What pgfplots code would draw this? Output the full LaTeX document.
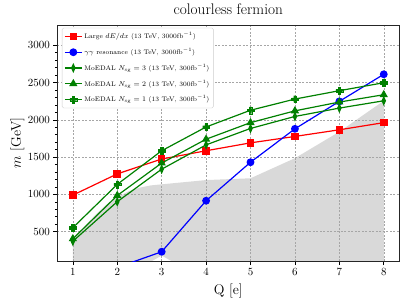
\documentclass[border=0pt]{standalone}
\usepackage{pgfplots}
\pgfplotsset{compat=1.18}
\pgfdeclareplotmark{Pfill}{%
 \pgfpathmoveto{\pgfqpoint{-0.36\pgfplotmarksize}{\pgfplotmarksize}}%
 \pgfpathlineto{\pgfqpoint{0.36\pgfplotmarksize}{\pgfplotmarksize}}%
 \pgfpathlineto{\pgfqpoint{0.36\pgfplotmarksize}{0.36\pgfplotmarksize}}%
 \pgfpathlineto{\pgfqpoint{\pgfplotmarksize}{0.36\pgfplotmarksize}}%
 \pgfpathlineto{\pgfqpoint{\pgfplotmarksize}{-0.36\pgfplotmarksize}}%
 \pgfpathlineto{\pgfqpoint{0.36\pgfplotmarksize}{-0.36\pgfplotmarksize}}%
 \pgfpathlineto{\pgfqpoint{0.36\pgfplotmarksize}{-\pgfplotmarksize}}%
 \pgfpathlineto{\pgfqpoint{-0.36\pgfplotmarksize}{-\pgfplotmarksize}}%
 \pgfpathlineto{\pgfqpoint{-0.36\pgfplotmarksize}{-0.36\pgfplotmarksize}}%
 \pgfpathlineto{\pgfqpoint{-\pgfplotmarksize}{-0.36\pgfplotmarksize}}%
 \pgfpathlineto{\pgfqpoint{-\pgfplotmarksize}{0.36\pgfplotmarksize}}%
 \pgfpathlineto{\pgfqpoint{-0.36\pgfplotmarksize}{0.36\pgfplotmarksize}}%
 \pgfpathclose\pgfusepathqfillstroke}
\definecolor{mplgreen}{rgb}{0,0.5,0}
\begin{document}
\begin{tikzpicture}
\path (-57.3pt,-45.7pt) rectangle (349.7pt,259.3pt);
\begin{axis}[
  set layers,
  clip mode=individual,
  scale only axis,
  width=342pt, height=236pt,
  xmin=0.65, xmax=8.35, ymin=106, ymax=3270,
  xtick={1,2,3,4,5,6,7,8},
  ytick={500,1000,1500,2000,2500,3000},
  minor y tick num=4,
  tick pos=left,
  tick align=outside,
  major tick length=4pt,
  minor tick length=2.5pt,
  tick style={black, line width=0.6pt},
  axis line style={black!85, line width=0.8pt},
  grid=major,
  major grid style={gray!70, dash pattern=on 2pt off 1.5pt, line width=0.4pt},
  tick label style={font=\fontsize{11.4}{13}\selectfont},
  scaled ticks=false,
  y tick label style={/pgf/number format/1000 sep={}},
  title={colourless fermion},
  title style={font=\fontsize{15.3}{17}\selectfont, at={(axis description cs:0.5,1)}, anchor=base, yshift=5pt},
  xlabel={Q [e]},
  xlabel style={font=\fontsize{14}{16}\selectfont, at={(axis description cs:0.5,0)}, anchor=base, yshift=-33.5pt},
  ylabel={$m$ [GeV]},
  ylabel style={font=\fontsize{14}{16}\selectfont, at={(axis description cs:-0.117,0.5)}, anchor=center},
  legend cell align=left,
  legend style={at={(axis description cs:0.0137,0.9886)}, anchor=north west,
    font=\fontsize{6.6}{7.2}\selectfont, draw=gray!40, fill=white,
    rounded corners=1.5pt, row sep=3.9pt, inner xsep=2pt, inner ysep=2.6pt},
]
\addplot[draw=none, fill=black!15, on layer=axis background, forget plot] coordinates {
 (1,380) (1.25,560) (1.5,720) (1.75,860) (2,960) (2.25,1040) (2.5,1090) (2.75,1120)
 (3,1135) (4,1192) (5,1216) (6,1485) (7,1840) (8,2255)
 (8,106) (3.22,106) (3,180) (2.78,106) (1,106)} -- cycle;

\addplot[red, line width=1.2pt, mark=square*, mark size=3.2pt] coordinates {
 (1,990) (2,1275) (3,1474) (4,1585) (5,1691) (6,1777) (7,1866) (8,1962)};
\addlegendentry{Large $dE/dx$ (13 TeV, 3000fb$^{-1}$)}

\addplot[blue, line width=1.2pt, mark=*, mark size=3.3pt] coordinates {
 (2,20) (3,231) (4,915) (5,1431) (6,1879) (7,2247) (8,2610)};
\addlegendentry{$\gamma\gamma$ resonance (13 TeV, 3000fb$^{-1}$)}

\addplot[mplgreen, line width=1.2pt, mark=diamond*, mark size=3.6pt, mark options={xscale=0.6}] coordinates {
 (1,372) (2,902) (3,1338) (4,1664) (5,1884) (6,2045) (7,2157) (8,2255)};
\addlegendentry{MoEDAL $N_{\rm sg}=3$ (13 TeV, 300fb$^{-1}$)}

\addplot[mplgreen, line width=1.2pt, mark=triangle*, mark size=3.6pt] coordinates {
 (1,405) (2,985) (3,1420) (4,1740) (5,1962) (6,2120) (7,2238) (8,2336)};
\addlegendentry{MoEDAL $N_{\rm sg}=2$ (13 TeV, 300fb$^{-1}$)}

\addplot[mplgreen, line width=1.2pt, mark=Pfill, mark size=3.4pt, mark options={line width=0.3pt}] coordinates {
 (1,553) (2,1134) (3,1585) (4,1904) (5,2128) (6,2278) (7,2390) (8,2497)};
\addlegendentry{MoEDAL $N_{\rm sg}=1$ (13 TeV, 300fb$^{-1}$)}
\end{axis}
\end{tikzpicture}
\end{document}
